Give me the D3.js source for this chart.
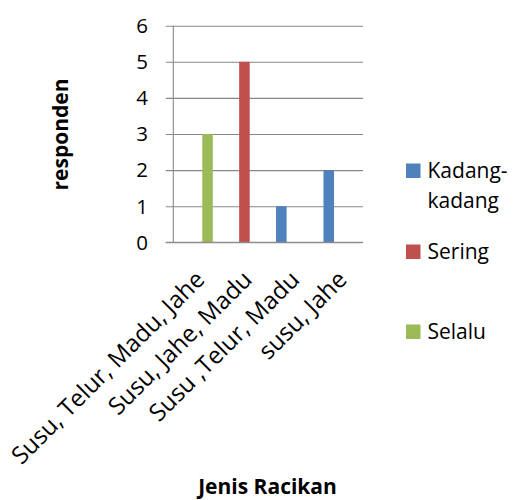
<!DOCTYPE html>
<html><head><meta charset="utf-8">
<script src="https://cdn.jsdelivr.net/npm/d3@7"></script>
<style>body{margin:0;background:#fff} svg{display:block}</style>
</head><body><svg id="c" width="515" height="500"></svg>
<script>
const categories = ["Susu, Telur, Madu, Jahe", "Susu, Jahe, Madu", "Susu ,Telur, Madu", "susu, Jahe"];
const seriesNames = ["Kadang-kadang", "Sering", "Selalu"];
const legendLines = [["Kadang-", "kadang"], ["Sering"], ["Selalu"]];
const kadang = [0, 0, 1, 2];
const sering = [0, 5, 0, 0];
const selalu = [3, 0, 0, 0];
const yTicks = [0, 1, 2, 3, 4, 5, 6];
const colors = ["#4F81BD", "#C0504D", "#9BBB59"];
const yTitle = "responden";
const xTitle = "Jenis Racikan";

const seriesValues = [kadang, sering, selalu];
const FONT = "'Open Sans', sans-serif";
const svg = d3.select("#c");

const plot = {left: 173.3, right: 363, top: 25.7, bottom: 242.3};
const x0 = d3.scaleBand().domain(categories).range([plot.left, plot.right]).padding(0);
const x1 = d3.scaleBand().domain(seriesNames).range([0, x0.bandwidth()]).paddingInner(0).paddingOuter(0.75);
const y = d3.scaleLinear().domain([0, 6]).range([plot.bottom, plot.top]);

// gridlines + left ticks
const yAxis = d3.axisLeft(y).tickValues(yTicks).tickSize(-(plot.right - plot.left)).tickSizeOuter(0).tickFormat("");
const gy = svg.append("g").attr("transform", `translate(${plot.left},0)`).call(yAxis);
gy.select(".domain").remove();
gy.selectAll(".tick line").attr("stroke", "#878787").attr("stroke-width", 1.1).attr("x1", -7.6);

// y tick labels
svg.append("g").selectAll("text").data(yTicks).join("text")
  .attr("x", 148).attr("y", d => y(d)).attr("dy", "0.36em")
  .attr("text-anchor", "end").attr("font-family", FONT).attr("font-size", 20.5).attr("fill", "#000")
  .text(d => d);

// y axis line
svg.append("line").attr("x1", plot.left).attr("x2", plot.left).attr("y1", y(6)).attr("y2", y(0))
  .attr("stroke", "#878787").attr("stroke-width", 1.1);

// bars
const barData = [];
categories.forEach((c, ci) => seriesNames.forEach((s, si) => {
  const v = seriesValues[si][ci];
  if (v > 0) barData.push({c, s, v, si});
}));
svg.append("g").selectAll("rect").data(barData).join("rect")
  .attr("x", d => x0(d.c) + x1(d.s)).attr("width", x1.bandwidth())
  .attr("y", d => y(d.v)).attr("height", d => y(0) - y(d.v))
  .attr("fill", d => colors[d.si]);

// x axis line
svg.append("line").attr("x1", plot.left - 7.6).attr("x2", plot.right).attr("y1", y(0)).attr("y2", y(0))
  .attr("stroke", "#878787").attr("stroke-width", 1.1);

// category labels
svg.append("g").selectAll("text").data(categories).join("text")
  .attr("transform", d => `translate(${x0(d) + x0.bandwidth() / 2 + 9},281) rotate(-45)`)
  .attr("text-anchor", "end").attr("font-family", FONT).attr("font-size", 24).attr("fill", "#000")
  .text(d => d);

// axis titles
svg.append("text").attr("transform", `translate(68,134.5) rotate(-90)`)
  .attr("text-anchor", "middle").attr("font-family", FONT).attr("font-weight", "bold").attr("font-size", 21)
  .text(yTitle);
svg.append("text").attr("x", 267.5).attr("y", 494)
  .attr("text-anchor", "middle").attr("font-family", FONT).attr("font-weight", "bold").attr("font-size", 21)
  .text(xTitle);

// legend
const legendY = [178, 259, 339];
const lg = svg.append("g").selectAll("g").data(seriesNames).join("g");
lg.append("rect").attr("x", 406).attr("y", (d, i) => legendY[i] - 14.5).attr("width", 14.5).attr("height", 14.5)
  .attr("fill", (d, i) => colors[i]);
lg.append("text").attr("x", 427.5).attr("y", (d, i) => legendY[i])
  .attr("font-family", FONT).attr("font-size", 21).attr("fill", "#000")
  .each(function(d, i) {
    d3.select(this).selectAll("tspan").data(legendLines[i]).join("tspan")
      .attr("x", 427.5).attr("dy", (t, j) => j === 0 ? 0 : 30).text(t => t);
  });
</script></body></html>
